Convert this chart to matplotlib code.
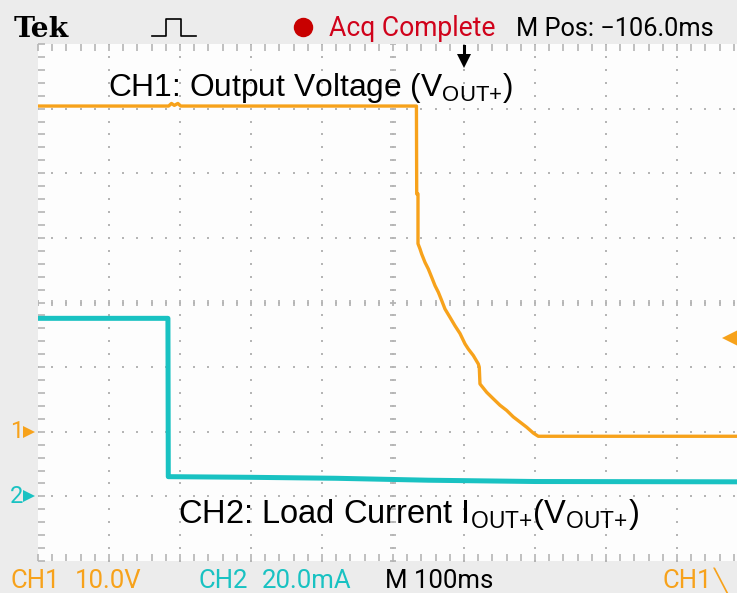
import numpy as np
import matplotlib
matplotlib.use("Agg")
import matplotlib.pyplot as plt
from matplotlib.lines import Line2D

# scope settings
ch1_scale = 10.0      # V/div
ch2_scale = 20.0      # mA/div
ch1_ground = -2.0     # div
ch2_ground = -3.0     # div
trig_level = 14.5     # V

# CH1 output voltage (time in ms, volts)
ch1_t = [0, 184, 188, 192, 197, 201, 533, 533.4, 535.2, 535.2, 538.0, 540.4, 545.1,
         549.7, 554.5, 559.2, 563.8, 568.6, 573.2, 580.3, 587.3, 594.4, 601.4, 606.1,
         613.1, 620.1, 621.5, 622.5, 632.0, 641.3, 650.7, 660.1, 669.4, 678.9,
         688.3, 697.6, 704.6, 1000]
ch1_v = [50.4, 50.4, 50.8, 50.5, 50.8, 50.4, 50.4, 36.8, 36.8, 29.1, 28.3, 27.5, 26.2,
         25.2, 23.9, 22.6, 21.6, 20.3, 19.0, 17.7, 16.4, 15.2, 13.6, 12.8,
         11.8, 10.5, 10.0, 7.4, 6.1, 5.1, 4.1, 3.3, 2.3, 1.5,
         0.7, -0.2, -0.7, -0.7]

# CH2 load current (time in ms, mA)
ch2_t = [0, 183, 183.5, 300, 420, 550, 700, 1000]
ch2_i = [55.1, 55.1, 6.1, 5.9, 5.6, 5.0, 4.6, 4.5]

orange = "#f7a21b"
cyan = "#19c2c2"
grid_c = "#b5b5b5"

plt.rcParams["mathtext.fontset"] = "custom"
plt.rcParams["mathtext.rm"] = "Liberation Sans"

W, H = 737, 593
fig = plt.figure(figsize=(W / 100, H / 100), dpi=100, facecolor="#ececec")
ax = fig.add_axes([38 / W, 32 / H, 710 / W, 517 / H])
ax.set_facecolor("#fdfdfd")
ax.set_xlim(0, 1000)
ax.set_ylim(-4, 4)
for s in ax.spines.values():
    s.set_visible(False)

# rulers on the edges
ax.set_xticks(np.arange(0, 1001, 20))
ax.set_yticks(np.arange(-4, 4.01, 0.2))
ax.tick_params(direction="in", length=5, width=1.2, color=grid_c, top=True,
               labelbottom=False, labelleft=False)

# dotted graticule
for gx in range(100, 1000, 100):
    yy = np.arange(-4, 4.01, 0.2)
    ax.plot(np.full_like(yy, gx), yy, ls="none", marker="s", ms=1.6, color=grid_c, mew=0)
for gy in range(-3, 4):
    xx = np.arange(0, 1001, 20)
    ax.plot(xx, np.full_like(xx, gy, dtype=float), ls="none", marker="s", ms=1.6,
            color=grid_c, mew=0)
# center cross ticks
xx = np.arange(0, 1001, 20)
ax.plot(xx, np.zeros_like(xx, dtype=float), ls="none", marker="|", ms=5, mew=1.3, color=grid_c)
yy = np.arange(-4, 4.01, 0.2)
ax.plot(np.full_like(yy, 500), yy, ls="none", marker="_", ms=5, mew=1.3, color=grid_c)

# traces
ax.plot(ch1_t, ch1_ground + np.array(ch1_v) / ch1_scale, color=orange, lw=2.4, zorder=5)
ax.plot(ch2_t, ch2_ground + np.array(ch2_i) / ch2_scale, color=cyan, lw=3.6, zorder=5)

# ground markers and trigger level
ax.plot([-12], [ch1_ground], marker=">", ms=9, color=orange, clip_on=False, mew=0)
ax.plot([-12], [ch2_ground], marker=">", ms=9, color=cyan, clip_on=False, mew=0)
ax.text(-21, ch1_ground, "1", color=orange, fontsize=17, ha="right", va="center",
        family="Roboto")
ax.text(-21, ch2_ground, "2", color=cyan, fontsize=17, ha="right", va="center",
        family="Roboto")
ax.plot([975], [ch1_ground + trig_level / ch1_scale], marker="<", ms=12, color=orange,
        mew=0, zorder=6, clip_on=False)

# trigger position arrow
ax.plot([600, 600], [3.97, 3.8], color="black", lw=2.2, clip_on=False, zorder=7)
ax.plot([600], [3.74], marker="v", ms=10, color="black", mew=0, clip_on=False, zorder=7)

renderer = fig.canvas.get_renderer()


def fit(x0, x1, base, s, **kw):
    # place text with its left edge at x0 and stretch the size to end at x1 (pixels)
    t = fig.text(x0 / W, 1 - base / H, s, fontsize=10, va="baseline", ha="left", **kw)
    w = t.get_window_extent(renderer).width
    t.set_fontsize(10 * (x1 - x0) / w)
    return t


# channel labels
fit(108, 515, 96, r"CH1: Output Voltage (V$_{\mathregular{OUT{+}}}$)", family="Liberation Sans")
fit(178, 641, 523, r"CH2: Load Current I$_{\mathregular{OUT{+}}}$(V$_{\mathregular{OUT{+}}}$)",
    family="Liberation Sans")

# top status bar
sans = "Roboto"
fit(14, 69, 37, "Tek", fontweight="bold", family="DejaVu Serif")
px = np.array([152, 166, 166, 181, 181, 196])
py = np.array([36, 36, 19, 19, 36, 36])
fig.add_artist(Line2D(px / W, 1 - py / H, color="black", lw=1.2))
fig.add_artist(Line2D([303 / W], [1 - 27 / H], marker="o", ms=14, color="#c80000", mew=0))
fit(329, 495, 36, "Acq Complete", color="#d0021b", family=sans)
fit(516, 714, 36, "M Pos: \u2212106.0ms", color="black", family=sans)

# bottom status bar, one common size
fs = fit(385, 493, 588, "M 100ms", color="black", family=sans).get_fontsize()
for x0, s, c in [(10, "CH1", orange), (75, "10.0V", orange), (198, "CH2", cyan),
                 (262, "20.0mA", cyan), (663, "CH1", orange)]:
    fig.text(x0 / W, 1 - 588 / H, s, fontsize=fs, color=c, family=sans,
             va="baseline", ha="left")
fig.text(714 / W, 1 - 588 / H, "\u2572", fontsize=16, color=orange, family="DejaVu Sans",
         va="baseline", ha="left")

fig.savefig("out.png", dpi=100, facecolor=fig.get_facecolor())
